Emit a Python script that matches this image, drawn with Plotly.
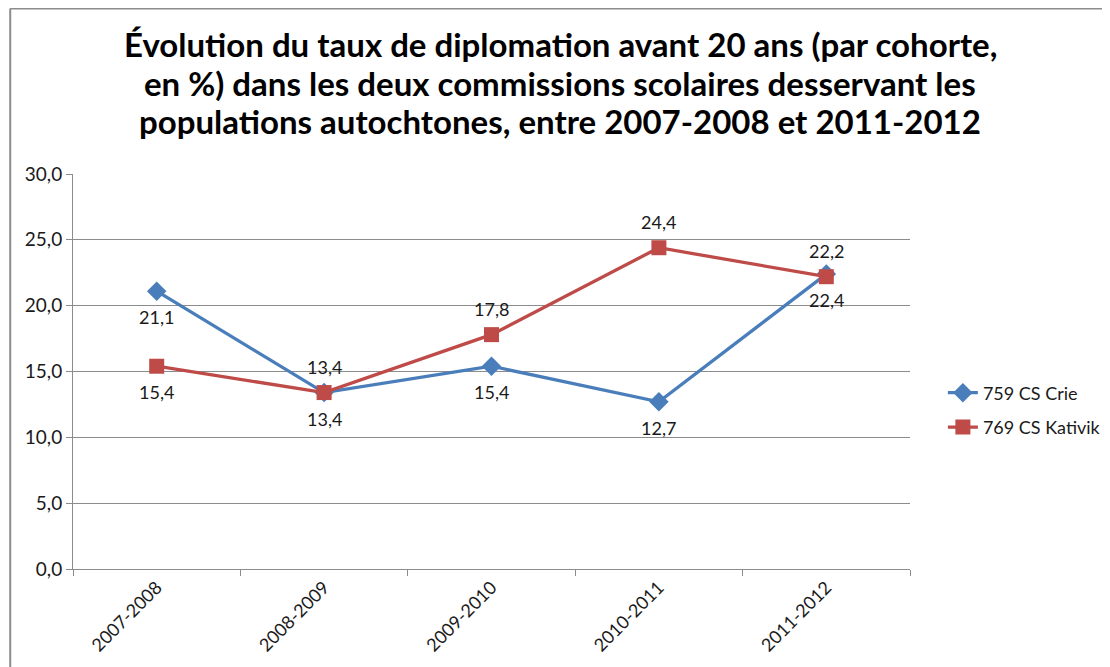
import plotly.graph_objects as go

categories = ["2007-2008", "2008-2009", "2009-2010", "2010-2011", "2011-2012"]
crie = [21.1, 13.4, 15.4, 12.7, 22.4]
kativik = [15.4, 13.4, 17.8, 24.4, 22.2]
crie_label_pos = ["below", "below", "below", "below", "below"]
kativik_label_pos = ["below", "above", "above", "above", "above"]
series_names = ["759 CS Crie", "769 CS Kativik"]
title_lines = [
    "Évolution du taux de diplomation avant 20 ans (par cohorte,",
    "en %) dans les deux commissions scolaires desservant les",
    "populations autochtones, entre 2007-2008 et 2011-2012",
]

BLUE = "#4A7EBB"
RED = "#BE4B48"
FONT = "Lato"
TXT = "#1a1a1a"
GRID = "#8c8c8c"

# page has an 8px body margin; figure coordinates below are page - 8
L, R, T, B = 65, 205, 166, 106
W, H = 1110, 667
PW, PH = W - L - R, H - T - B


def px_x(fx):
    return (fx - L) / PW


def px_y(fy):
    return (H - B - fy) / PH


fig = go.Figure()
fig.add_trace(go.Scatter(
    x=categories, y=crie, name=series_names[0], mode="lines+markers",
    line=dict(color=BLUE, width=3.3),
    marker=dict(symbol="diamond", size=15, color=BLUE),
    legendgroup="a",
))
fig.add_trace(go.Scatter(
    x=categories, y=kativik, name=series_names[1], mode="lines+markers",
    line=dict(color=RED, width=3.3),
    marker=dict(symbol="square", size=15, color=RED),
    legendgroup="b",
))


def fmt(v):
    return f"{v:.1f}".replace(".", ",")


annotations = []
for vals, pos in ((crie, crie_label_pos), (kativik, kativik_label_pos)):
    for c, v, p in zip(categories, vals, pos):
        annotations.append(dict(
            x=c, y=v, xref="x", yref="y", text=fmt(v), showarrow=False,
            yshift=-26 if p == "below" else 26,
            font=dict(family=FONT, size=18, color=TXT),
        ))

title_centers = [36, 75, 113]
for line, fy in zip(title_lines, title_centers):
    annotations.append(dict(
        x=px_x(554), y=px_y(fy), xref="paper", yref="paper",
        text="<b>" + line + "</b>", showarrow=False, xanchor="center", yanchor="middle",
        font=dict(family=FONT, size=33, color="#000000"),
    ))

fig.update_layout(
    width=W, height=H,
    margin=dict(l=L, r=R, t=T, b=B, pad=0),
    paper_bgcolor="white", plot_bgcolor="white",
    separators=", ",
    showlegend=True,
    legend=dict(
        x=px_x(938), y=px_y(402), xanchor="left", yanchor="middle",
        font=dict(family=FONT, size=18, color=TXT),
        traceorder="grouped", tracegroupgap=8,
        bgcolor="rgba(0,0,0,0)",
    ),
    annotations=annotations,
    shapes=[
        dict(type="line", xref="paper", yref="paper",
             x0=px_x(2), x1=px_x(W + 5),
             y0=px_y(0.5), y1=px_y(0.5),
             line=dict(color=GRID, width=2)),
        dict(type="line", xref="paper", yref="paper",
             x0=px_x(2), x1=px_x(2),
             y0=px_y(0.5), y1=px_y(H + 10),
             line=dict(color=GRID, width=2)),
    ],
)

fig.update_xaxes(
    type="category", showgrid=False, showline=True, linecolor=GRID, linewidth=1,
    ticks="outside", tickson="boundaries", ticklen=6, tickcolor=GRID,
    tickangle=-45, tickfont=dict(family=FONT, size=18, color=TXT),
    range=[-0.5, 4.5],
)
fig.update_yaxes(
    range=[0, 30], dtick=5, tickformat=".1f", showgrid=True, gridcolor=GRID,
    gridwidth=1, showline=True, linecolor=GRID, linewidth=1,
    ticks="outside", ticklen=6, tickcolor=GRID, zeroline=False,
    tickfont=dict(family=FONT, size=19, color=TXT),
)

fig.write_html("out.html")
